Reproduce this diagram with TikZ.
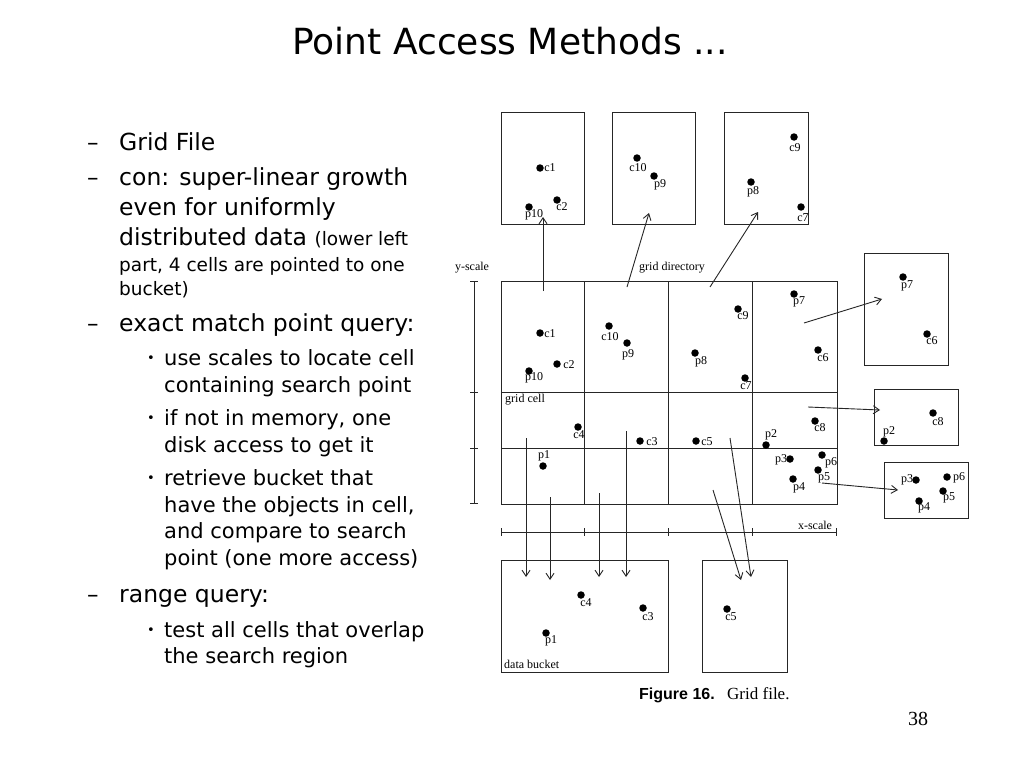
\documentclass[tikz,border=0pt]{standalone}
\usepackage{fontspec}
\setmainfont{DejaVu Sans}
\newfontfamily\figserif{Liberation Serif}
\newfontfamily\figsans{Liberation Sans}
\usetikzlibrary{arrows.meta}
\newcommand\dotlbl[4]{\node[dot] (#1) at (#2) {}; \node[lbl] (#1l) at (#3) {#4};}
\begin{document}
\begin{tikzpicture}[x=1pt,y=-1pt,
  tline/.style={anchor=base west, inner sep=0pt, font=\fontsize{23.5}{27}\selectfont},
  sline/.style={anchor=base west, inner sep=0pt, font=\fontsize{21}{25}\selectfont},
  mline/.style={anchor=base west, inner sep=0pt, font=\fontsize{18.5}{22}\selectfont},
  dashmark/.style={anchor=base west, inner sep=0pt, font=\fontsize{23}{27}\selectfont},
  bulmark/.style={anchor=base, inner sep=0pt, font=\fontsize{13}{15}\selectfont},
  fig/.style={draw=black!85, line width=0.9pt},
  bucketbox/.style={draw=black!85, line width=0.9pt, inner sep=0pt},
  dot/.style={circle, fill=black, inner sep=0pt, minimum size=7.5pt},
  lbl/.style={inner sep=0pt, font=\figserif\fontsize{12}{13}\selectfont},
  arr/.style={draw=black!85, line width=0.9pt, -{Straight Barb[length=6pt,width=8pt]}},
  tick/.style={draw=black!85, line width=0.9pt}]
\useasboundingbox (0,0) rectangle (1024,768);
\fill[white] (0,0) rectangle (1024,768);

% title
\node[anchor=base, inner sep=0pt, font=\fontsize{36}{40}\selectfont] (title) at (510,55) {Point Access Methods ...};

% left text
\node[dashmark] (d1) at (87,150) {–};
\node[tline] (t1) at (119,150) {Grid File};
\node[dashmark] (d2) at (87,185) {–};
\node[tline] (t2) at (119,185) {con: super-linear growth};
\node[tline] (t3) at (119,215) {even for uniformly};
\node[tline] (t4) at (119,245) {distributed data {\fontsize{18.5}{22}\selectfont(lower left}};
\node[mline] (t5) at (119,271) {part, 4 cells are pointed to one};
\node[mline] (t6) at (119,295) {bucket)};
\node[dashmark] (d3) at (87,331) {–};
\node[tline] (t7) at (119,331) {exact match point query:};
\node[bulmark] (b1) at (151,362) {•};
\node[sline] (s1) at (164,365) {use scales to locate cell};
\node[sline] (s2) at (164,392) {containing search point};
\node[bulmark] (b2) at (151,422) {•};
\node[sline] (s3) at (164,425) {if not in memory, one};
\node[sline] (s4) at (164,452) {disk access to get it};
\node[bulmark] (b3) at (151,482) {•};
\node[sline] (s5) at (164,485) {retrieve bucket that};
\node[sline] (s6) at (164,512) {have the objects in cell,};
\node[sline] (s7) at (164,538) {and compare to search};
\node[sline] (s8) at (164,565) {point (one more access)};
\node[dashmark] (d4) at (87,602) {–};
\node[tline] (t8) at (119,602) {range query:};
\node[bulmark] (b4) at (151,634) {•};
\node[sline] (s9) at (164,637) {test all cells that overlap};
\node[sline] (s10) at (164,663) {the search region};

% ---------------- figure ----------------
% top buckets
\node[bucketbox, minimum width=83pt, minimum height=112pt] (tb1) at (542.5,168) {};
\node[bucketbox, minimum width=83pt, minimum height=112pt] (tb2) at (654.2,168) {};
\node[bucketbox, minimum width=84pt, minimum height=112pt] (tb3) at (766.3,168) {};
\dotlbl{a1}{540,168}{550,168}{c1}
\dotlbl{a2}{557,200}{562,207}{c2}
\dotlbl{a3}{529,207}{534,215}{p10}
\dotlbl{a4}{637,158}{638,168}{c10}
\dotlbl{a5}{654,176}{660,185}{p9}
\dotlbl{a6}{794,137}{795,148}{c9}
\dotlbl{a7}{751,182}{753,192}{p8}
\dotlbl{a8}{801,207}{803,218}{c7}

% grid directory
\draw[fig] (501,281) rectangle (837,504);
\draw[fig] (584,281) -- (584,504);
\draw[fig] (668,281) -- (668,504);
\draw[fig] (752,281) -- (752,504);
\draw[fig] (501,392) -- (837,392);
\draw[fig] (501,448) -- (837,448);
\node[lbl] (gdir) at (672,268) {grid directory};
\node[lbl, anchor=west] (gcell) at (505,400) {grid cell};

\dotlbl{g1}{540,333}{550,334}{c1}
\dotlbl{g2}{557,364}{569,365}{c2}
\dotlbl{g3}{529,371}{534,378}{p10}
\dotlbl{g4}{609,326}{610,337}{c10}
\dotlbl{g5}{627,343}{628,355}{p9}
\dotlbl{g6}{695,353}{701,362}{p8}
\dotlbl{g7}{738,309}{743,316}{c9}
\dotlbl{g8}{745,378}{746,386}{c7}
\dotlbl{g9}{578,427}{579,435}{c4}
\dotlbl{g10}{640,441}{652,442}{c3}
\dotlbl{g11}{696,441}{707,442}{c5}
\dotlbl{g12}{543,466}{544,456}{p1}
\dotlbl{g13}{794,294}{799,302}{p7}
\dotlbl{g14}{818,350}{823,358}{c6}
\dotlbl{g15}{815,421}{820,428}{c8}
\dotlbl{g16}{766,445}{771,435}{p2}
\dotlbl{g17}{790,459}{781,460}{p3}
\dotlbl{g18}{822,455}{831,463}{p6}
\dotlbl{g19}{818,470}{824,478}{p5}
\dotlbl{g20}{793,479}{799,488}{p4}

% y-scale
\node[lbl] (ysc) at (472,268) {y-scale};
\coordinate (y0) at (474,281);
\coordinate (y3) at (474,503);
\draw[tick] (y0) -- (y3);
\draw[tick] (470,281) -- (478,281);
\draw[tick] (470,392) -- (478,392);
\draw[tick] (470,448) -- (478,448);
\draw[tick] (470,503) -- (478,503);

% x-scale
\node[lbl] (xsc) at (815,525) {x-scale};
\coordinate (x0) at (501,532);
\coordinate (x4) at (836,532);
\draw[tick] (x0) -- (x4);
\draw[tick] (501,528) -- (501,536);
\draw[tick] (584,528) -- (584,536);
\draw[tick] (668,528) -- (668,536);
\draw[tick] (752,528) -- (752,536);
\draw[tick] (836,528) -- (836,536);

% right buckets
\node[bucketbox, minimum width=84pt, minimum height=112pt] (rb1) at (906,309) {};
\node[bucketbox, minimum width=84pt, minimum height=56pt] (rb2) at (916,417) {};
\node[bucketbox, minimum width=84pt, minimum height=56pt] (rb3) at (926,490.5) {};
\dotlbl{r1}{903,277}{907,286}{p7}
\dotlbl{r2}{927,334}{932,341}{c6}
\dotlbl{r3}{933,413}{938,422}{c8}
\dotlbl{r4}{884,441}{889,432}{p2}
\dotlbl{r5}{916,480}{907,480}{p3}
\dotlbl{r6}{947,477}{959,478}{p6}
\dotlbl{r7}{943,491}{949,498}{p5}
\dotlbl{r8}{919,501}{924,508}{p4}

% bottom buckets
\node[bucketbox, minimum width=167pt, minimum height=112pt] (db1) at (584.5,616) {};
\node[bucketbox, minimum width=85pt, minimum height=112pt] (db2) at (744.5,616) {};
\dotlbl{e1}{581,595}{586,603}{c4}
\dotlbl{e2}{643,608}{648,617}{c3}
\dotlbl{e3}{546,633}{551,641}{p1}
\dotlbl{e4}{727,609}{731,617}{c5}
\node[lbl, anchor=west] (dbk) at (504,664) {data bucket};

% arrows
\coordinate (u1s) at (543,291); \coordinate (u1e) at (543,217);
\coordinate (u2s) at (627,287); \coordinate (u2e) at (649,213);
\coordinate (u3s) at (710,287); \coordinate (u3e) at (758,212);
\coordinate (r1s) at (804,323); \coordinate (r1e) at (882,299);
\coordinate (r2s) at (808,407); \coordinate (r2e) at (880,410);
\coordinate (r3s) at (822,483); \coordinate (r3e) at (898,490);
\coordinate (d1s) at (526,438); \coordinate (d1e) at (526,577);
\coordinate (d2s) at (550,497); \coordinate (d2e) at (550,580);
\coordinate (d3s) at (599,493); \coordinate (d3e) at (599,577);
\coordinate (d4s) at (626,431); \coordinate (d4e) at (626,577);
\coordinate (d5s) at (713,490); \coordinate (d5e) at (741,580);
\coordinate (d6s) at (730,438); \coordinate (d6e) at (751,577);
\foreach \a in {u1,u2,u3,r1,r2,r3,d1,d2,d3,d4,d5,d6}
  \draw[arr] (\a s) -- (\a e);

% caption
\node[anchor=base west, inner sep=0pt, font=\figsans\bfseries\fontsize{16}{18}\selectfont] (cap1) at (639,699) {Figure 16.};
\node[anchor=base west, inner sep=0pt, font=\figserif\fontsize{17}{19}\selectfont] (cap2) at (727,699) {Grid file.};

% page number
\node[anchor=base, inner sep=0pt, font=\figserif\fontsize{20}{22}\selectfont] (pnum) at (918,725) {38};
\end{tikzpicture}
\end{document}
